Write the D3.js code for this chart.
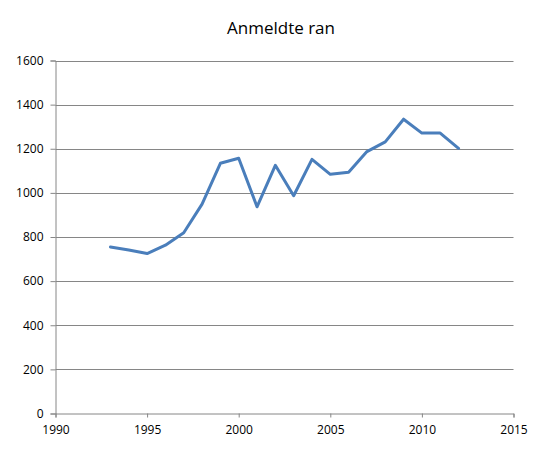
<!DOCTYPE html>
<html lang='en'>
	<head>
		<meta charset='utf-8'>
		<title>Anmeldte ran</title>
		<script type='text/javascript' src='https://cdn.jsdelivr.net/npm/d3@7/dist/d3.min.js'></script>
		<style>
			body { margin: 0; background: #fff; }
			text { font-family: 'Open Sans', 'Noto Sans', sans-serif; fill: #000; }
		</style>
	</head>
	<body>
		<svg id='svg' width='560' height='460'></svg>
		<script type='text/javascript'>
			var years = [1993, 1994, 1995, 1996, 1997, 1998, 1999, 2000, 2001, 2002,
				2003, 2004, 2005, 2006, 2007, 2008, 2009, 2010, 2011, 2012];
			var reported = [755, 741, 725, 763, 819, 949, 1134, 1157, 937, 1125,
				987, 1152, 1084, 1093, 1187, 1231, 1334, 1271, 1271, 1202];
			var xTicks = [1990, 1995, 2000, 2005, 2010, 2015];
			var yTicks = [0, 200, 400, 600, 800, 1000, 1200, 1400, 1600];
			var title = 'Anmeldte ran';

			{
				var svg = d3.select('#svg');
				var plotLeft = 55.5, plotRight = 513.5, plotTop = 60.5, plotBottom = 413.5;

				var x = d3.scaleLinear().domain([1990, 2015]).range([plotLeft, plotRight]);
				var y = d3.scaleLinear().domain([0, 1600]).range([plotBottom, plotTop]);

				// gridlines
				svg.append('g').selectAll('line').data(yTicks.slice(1)).enter().append('line')
					.attr('x1', plotLeft).attr('x2', plotRight)
					.attr('y1', d => Math.round(y(d)) + 0.5).attr('y2', d => Math.round(y(d)) + 0.5)
					.attr('stroke', '#868686').attr('stroke-width', 1);

				var xAxis = svg.append('g').attr('transform', 'translate(0,' + plotBottom + ')')
					.call(d3.axisBottom(x).tickValues(xTicks).tickFormat(d3.format('d')).tickSize(4).tickPadding(8));
				var yAxis = svg.append('g').attr('transform', 'translate(' + plotLeft + ',0)')
					.call(d3.axisLeft(y).tickValues(yTicks).tickFormat(d3.format('d')).tickSize(5).tickPadding(7));

				[xAxis, yAxis].forEach(function(a) {
					a.select('.domain').attr('stroke', '#868686');
					a.selectAll('.tick line').attr('stroke', '#868686');
					a.selectAll('.tick text').style('font-size', '12px').attr('fill', '#000');
				});

				var line = d3.line().x((d, i) => x(years[i])).y(d => y(d));
				svg.append('path').datum(reported)
					.attr('d', line)
					.attr('fill', 'none')
					.attr('stroke', '#4a7ebb')
					.attr('stroke-width', 3)
					.attr('stroke-linejoin', 'round')
					.attr('stroke-linecap', 'round');

				svg.append('text')
					.attr('x', 281).attr('y', 34)
					.attr('text-anchor', 'middle')
					.style('font-size', '17px')
					.text(title);
			}
		</script>
	</body>
</html>
